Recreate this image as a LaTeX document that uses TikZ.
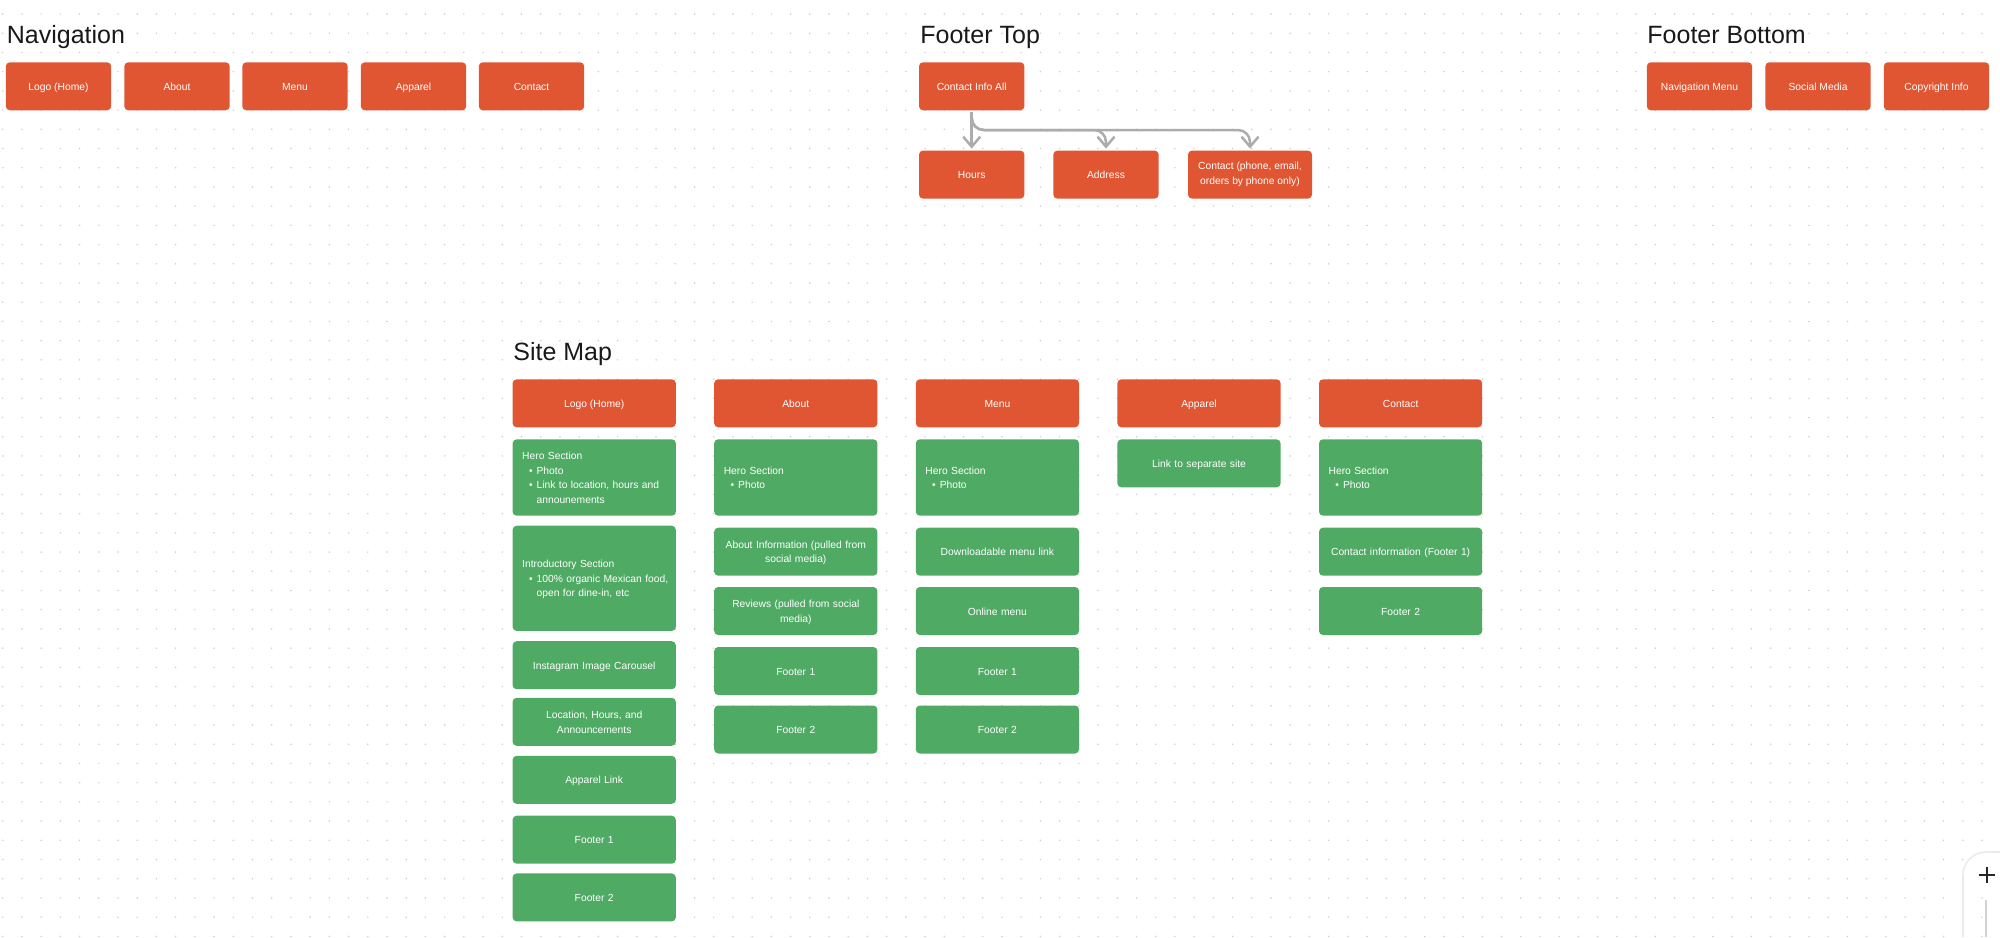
\documentclass[tikz,border=0pt]{standalone}
\usepackage{fontspec}
\setmainfont{Liberation Sans}
\usepackage{tikz}
\usetikzlibrary{arrows.meta}
\definecolor{navred}{RGB}{224,85,50}
\definecolor{pagegreen}{RGB}{79,170,100}
\definecolor{linkgray}{RGB}{172,172,172}
\definecolor{dotgray}{RGB}{205,205,205}
\hyphenpenalty=10000
\newcommand{\bul}{\hspace*{3.4pt}\makebox[3.8pt][l]{\textbullet}}
\newcommand{\cont}{\hspace*{7.2pt}}
\tikzset{
every node/.style={font=\fontsize{5.15}{7.2}\selectfont},
box/.style={ % Sets the properties for each box
rounded corners=2pt,
outer sep=1pt,
text=white,
execute at begin node=\rule{0pt}{5.2pt},
execute at end node=\rule[-1.2pt]{0pt}{1.2pt},
align=center},
navbox/.style={box,
fill=navred,
minimum width=52.7pt,
minimum height=24pt,
inner sep=0pt},
headbox/.style={navbox,
minimum width=81.6pt},
pagebox/.style={box,
fill=pagegreen,
text width=72pt,
inner xsep=4.8pt,
inner ysep=0pt,
minimum height=24pt},
listbox/.style={pagebox,
align=left},
title/.style={anchor=base west,
inner sep=0pt,
text=black!90,
font=\fontsize{12.5}{16}\selectfont},
griddot/.style={fill=dotgray},
link/.style={ % Sets the properties for each connector
draw=linkgray,
line width=1.25pt,
rounded corners=6pt,
-{Straight Barb[length=5pt,width=8.5pt,line width=1.25pt]}}
}

\begin{document}
\begin{tikzpicture}[x=.5pt,y=-.5pt]
\useasboundingbox (0,0) rectangle (2000,937);
% dotted canvas
\foreach \i in {0,...,103}
\foreach \j in {0,...,48}
\fill[griddot] ({2.7+19.216*\i},{14+19.216*\j}) circle (.42pt);

\node[title] (navTitle) at (6.5,43.3) {Navigation};
\node[navbox] (navLogo) at (58.5,86.3) {Logo (Home)};
\node[navbox] (navAbout) at (177,86.3) {About};
\node[navbox] (navMenu) at (295,86.3) {Menu};
\node[navbox] (navApparel) at (413.5,86.3) {Apparel};
\node[navbox] (navContact) at (531.5,86.3) {Contact};

\node[title] (topTitle) at (920,43.3) {Footer Top};
\node[navbox] (topInfo) at (971.7,86.3) {Contact Info All};
\node[navbox] (topHours) at (971.7,174.6) {Hours};
\node[navbox] (topAddress) at (1106,174.6) {Address};
\node[navbox,minimum width=62pt] (topContact) at (1250,174.6) {Contact (phone, email,\\orders by phone only)};
\coordinate (busAddress) at (1106,130);
\coordinate (busContact) at (1250,130);
\draw[link] (topInfo) -- (topHours);
\draw[link] (topInfo.south) |- (busAddress) -- (topAddress.north);
\draw[link] (topInfo.south) |- (busContact) -- (topContact.north);

\node[title] (botTitle) at (1647,43.3) {Footer Bottom};
\node[navbox] (botMenu) at (1699.5,86.3) {Navigation Menu};
\node[navbox] (botSocial) at (1818,86.3) {Social Media};
\node[navbox] (botCopy) at (1936.5,86.3) {Copyright Info};

\node[title] (mapTitle) at (513,360.6) {Site Map};
% home column
\node[headbox] (homeHead) at (594.2,403.3) {Logo (Home)};
\node[listbox,minimum height=38.2pt] (homeHero) at (594.2,477.5) {Hero Section\\\bul Photo\\\bul Link to location, hours and\\\cont announements};
\node[listbox,minimum height=52.6pt] (homeIntro) at (594.2,578.3) {Introductory Section\\\bul\mbox{100\% organic Mexican food,}\\\cont open for dine-in, etc};
\node[pagebox] (homeInsta) at (594.2,665.2) {Instagram Image Carousel};
\node[pagebox] (homeHours) at (594.2,721.8) {Location, Hours, and\\Announcements};
\node[pagebox] (homeApparel) at (594.2,779.8) {Apparel Link};
\node[pagebox] (homeFootA) at (594.2,839.7) {Footer 1};
\node[pagebox] (homeFootB) at (594.2,897.4) {Footer 2};
% about column
\node[headbox] (aboutHead) at (795.8,403.3) {About};
\node[listbox,minimum height=38.2pt] (aboutHero) at (795.8,477.5) {Hero Section\\\bul Photo};
\node[pagebox] (aboutInfo) at (795.8,551.7) {About Information (pulled from\\social media)};
\node[pagebox] (aboutReviews) at (795.8,611) {Reviews (pulled from social\\media)};
\node[pagebox] (aboutFootA) at (795.8,671) {Footer 1};
\node[pagebox] (aboutFootB) at (795.8,729.5) {Footer 2};
% menu column
\node[headbox] (menuHead) at (997.4,403.3) {Menu};
\node[listbox,minimum height=38.2pt] (menuHero) at (997.4,477.5) {Hero Section\\\bul Photo};
\node[pagebox] (menuLink) at (997.4,551.7) {Downloadable menu link};
\node[pagebox] (menuOnline) at (997.4,611) {Online menu};
\node[pagebox] (menuFootA) at (997.4,671) {Footer 1};
\node[pagebox] (menuFootB) at (997.4,729.5) {Footer 2};
% apparel column
\node[headbox] (shopHead) at (1199,403.3) {Apparel};
\node[pagebox] (shopLink) at (1199,463.4) {Link to separate site};
% contact column
\node[headbox] (mailHead) at (1400.6,403.3) {Contact};
\node[listbox,minimum height=38.2pt] (mailHero) at (1400.6,477.5) {Hero Section\\\bul Photo};
\node[pagebox] (mailInfo) at (1400.6,551.7) {Contact information (Footer 1)};
\node[pagebox] (mailFootB) at (1400.6,611) {Footer 2};

% zoom control
\path[fill=white,draw=black!8,line width=.8pt,rounded corners=11.5pt] (1963,937) |- (2000,852);
\draw[black!85,line width=.8pt] (1979,874.7) -- (1994.7,874.7) (1986.8,866.7) -- (1986.8,882.7);
\draw[black!18,line width=1.4pt] (1986,900) -- (1986,937);
\end{tikzpicture}
\end{document}
